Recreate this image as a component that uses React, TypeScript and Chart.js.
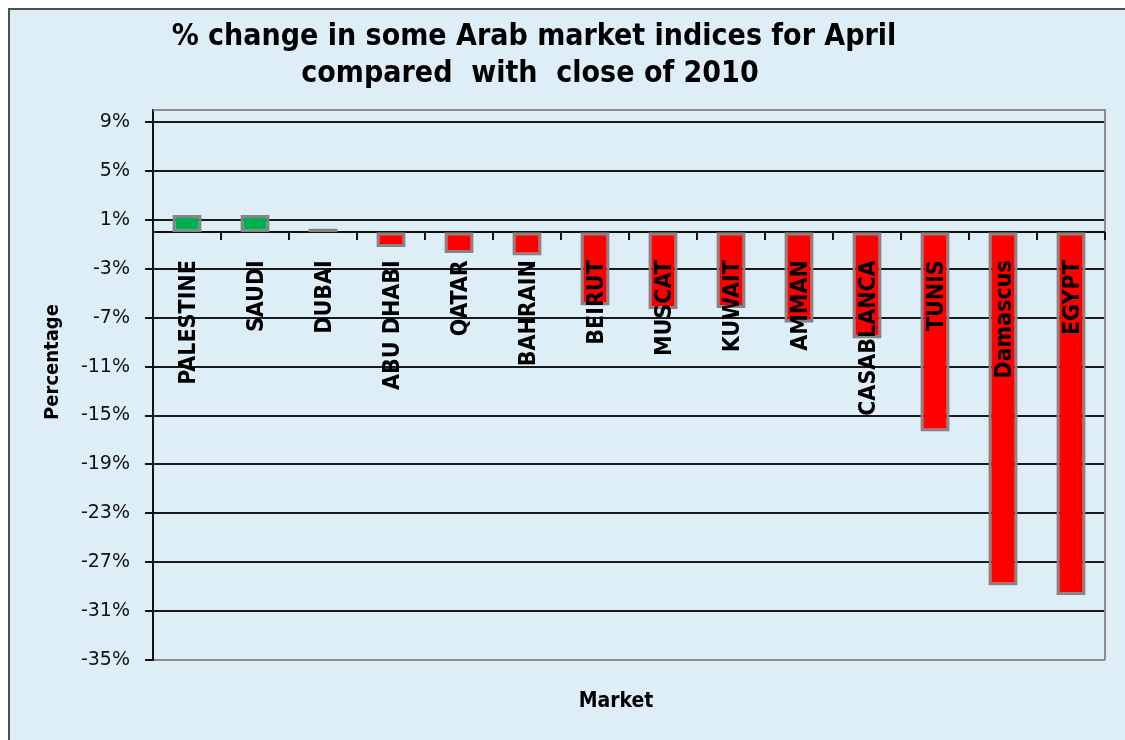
import { useEffect, useRef } from 'react';
import { Chart, registerables } from 'chart.js';

Chart.register(...registerables);

const markets = ['PALESTINE', 'SAUDI', 'DUBAI', 'ABU DHABI', 'QATAR', 'BAHRAIN', 'BEIRUT', 'MUSCAT', 'KUWAIT', 'AMMAN', 'CASABLANCA', 'TUNIS', 'Damascus', 'EGYPT'];
const changes = [1.4, 1.4, 0.3, -1.2, -1.7, -1.9, -6.0, -6.3, -6.2, -7.4, -8.7, -16.3, -28.9, -29.7];
const yTicks = [9, 5, 1, -3, -7, -11, -15, -19, -23, -27, -31, -35];
const titleLines = ['% change in some Arab market indices for April', 'compared  with  close of 2010'];
const xTitle = 'Market';
const yTitle = 'Percentage';

const BG = 'rgb(222,238,247)';
const COND = "'DejaVu Sans Condensed', 'DejaVu Sans', sans-serif";

const decor = {
  id: 'decor',
  beforeDraw(chart: any) {
    const { ctx, width, height } = chart;
    ctx.save();
    ctx.fillStyle = BG;
    ctx.fillRect(0, 0, width, height);
    ctx.strokeStyle = '#505050';
    ctx.lineWidth = 2;
    ctx.beginPath();
    ctx.moveTo(1, height);
    ctx.lineTo(1, 1);
    ctx.lineTo(width, 1);
    ctx.stroke();
    ctx.restore();
  },
  beforeDatasetsDraw(chart: any) {
    const { ctx, chartArea: a, scales } = chart;
    const x = scales.x;
    const y = scales.y;
    ctx.save();
    ctx.strokeStyle = '#8c8c8c';
    ctx.lineWidth = 2;
    ctx.beginPath();
    ctx.moveTo(a.left, a.top);
    ctx.lineTo(a.right, a.top);
    ctx.lineTo(a.right, a.bottom);
    ctx.stroke();
    const y0 = Math.round(y.getPixelForValue(0));
    const step = x.getPixelForValue(1) - x.getPixelForValue(0);
    ctx.strokeStyle = '#111';
    ctx.lineWidth = 2;
    ctx.beginPath();
    ctx.moveTo(a.left, y0);
    ctx.lineTo(a.right, y0);
    for (let i = 0; i < markets.length; i++) {
      const xb = Math.round(x.getPixelForValue(i) + step / 2);
      ctx.moveTo(xb, y0);
      ctx.lineTo(xb, y0 + 8);
    }
    ctx.stroke();
    ctx.restore();
  },
  afterDatasetsDraw(chart: any) {
    const { ctx, scales } = chart;
    const x = scales.x;
    const y = scales.y;
    const y0 = y.getPixelForValue(0);
    ctx.save();
    ctx.fillStyle = '#000';
    ctx.font = `bold 23px ${COND}`;
    ctx.textAlign = 'right';
    ctx.textBaseline = 'alphabetic';
    markets.forEach((m, i) => {
      const cx = x.getPixelForValue(i);
      ctx.save();
      ctx.translate(cx + 8, y0 + 28);
      ctx.rotate(-Math.PI / 2);
      ctx.fillText(m, 0, 0);
      ctx.restore();
    });
    ctx.restore();
  },
  afterDraw(chart: any) {
    const { ctx } = chart;
    ctx.save();
    ctx.fillStyle = '#000';
    ctx.textAlign = 'center';
    ctx.textBaseline = 'alphabetic';
    ctx.font = `bold 30px ${COND}`;
    ctx.fillText(titleLines[0], 526, 37);
    ctx.fillText(titleLines[1], 522, 74);
    ctx.font = `bold 21px ${COND}`;
    ctx.fillText(xTitle, 608, 699);
    ctx.save();
    ctx.translate(50, 354);
    ctx.rotate(-Math.PI / 2);
    ctx.font = `bold 20px ${COND}`;
    ctx.fillText(yTitle, 0, 0);
    ctx.restore();
    ctx.restore();
  },
};

export default function App() {
  const ref = useRef<HTMLCanvasElement>(null);
  useEffect(() => {
    if (!ref.current) return;
    const chart = new Chart(ref.current, {
      type: 'bar',
      data: {
        labels: markets,
        datasets: [
          {
            data: changes,
            backgroundColor: changes.map((v) => (v >= 0 ? '#00B050' : '#FF0000')),
            borderColor: '#858585',
            borderWidth: 3,
            borderSkipped: false,
            barPercentage: 0.43,
            categoryPercentage: 1,
          },
        ],
      },
      options: {
        responsive: false,
        animation: false,
        devicePixelRatio: 1,
        layout: { padding: { top: 102, right: 20, bottom: 80, left: 0 } },
        plugins: { legend: { display: false }, title: { display: false }, tooltip: { enabled: false } },
        scales: {
          x: { type: 'category', display: false },
          y: {
            min: -35,
            max: 10,
            afterFit: (s: any) => {
              s.width = 145;
            },
            afterBuildTicks: (s: any) => {
              s.ticks = yTicks.map((v) => ({ value: v }));
            },
            border: { display: true, color: '#111', width: 2 },
            grid: {
              color: (c: any) => (c.tick && c.tick.value === -35 ? '#8c8c8c' : '#1a1a1a'),
              tickColor: '#111',
              lineWidth: 2,
              tickLength: 8,
              drawTicks: true,
            },
            ticks: {
              padding: 15,
              color: '#111',
              font: { family: "'DejaVu Sans', sans-serif", size: 19 },
              callback: (v: any) => `${v}%`,
            },
          },
        },
      },
      plugins: [decor],
    });
    return () => chart.destroy();
  }, []);
  return (
    <div style={{ position: 'fixed', left: 8, top: 8, width: 1117, height: 732 }}>
      <canvas ref={ref} width={1117} height={732} style={{ width: 1117, height: 732, display: 'block' }} />
    </div>
  );
}
